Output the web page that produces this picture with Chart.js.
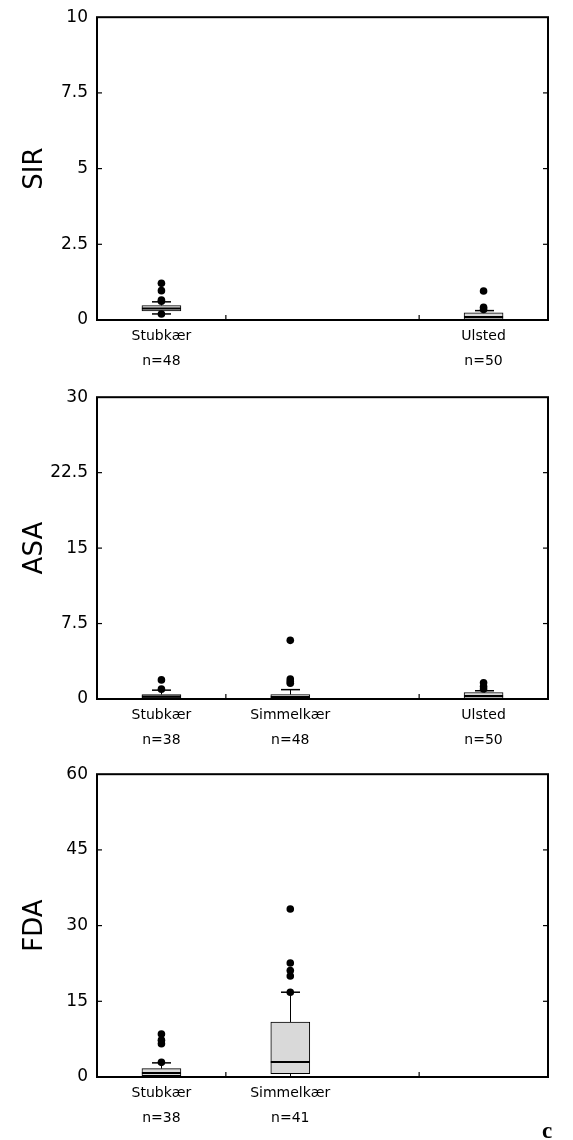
<!DOCTYPE html>
<html>
<head>
<meta charset="utf-8">
<script src="https://cdn.jsdelivr.net/npm/chart.js@4.4.0/dist/chart.umd.min.js"></script>
<style>
html,body{margin:0;padding:0;background:#fff;width:573px;height:1140px;overflow:hidden;position:relative}
canvas{position:absolute;left:0}
#lbl{position:absolute;left:542px;top:1118px;font:bold 23px 'Liberation Serif';color:#000}
</style>
</head>
<body>
<canvas id="p1" width="573" height="387" style="top:-2px"></canvas>
<canvas id="p2" width="573" height="386" style="top:378px"></canvas>
<canvas id="p3" width="573" height="387" style="top:755px"></canvas>
<div id="lbl">c</div>
<script>
// ---------- Data ----------
// Panel 1: SIR
const sirCategories = ['Stubkær', 'Ulsted'];
const sirCounts = ['n=48', 'n=50'];
const sirPositions = [1, 3.5];
const sirLowerWhisker = [0.2, 0];
const sirQ1 = [0.3, 0.02];
const sirMedian = [0.38, 0.1];
const sirQ3 = [0.48, 0.24];
const sirUpperWhisker = [0.6, 0.31];
const sirOutliers = [[1.21, 0.97, 0.66, 0.62, 0.2], [0.96, 0.42, 0.35]];
const sirTicks = [0, 2.5, 5, 7.5, 10];

// Panel 2: ASA
const asaCategories = ['Stubkær', 'Simmelkær', 'Ulsted'];
const asaCounts = ['n=38', 'n=48', 'n=50'];
const asaPositions = [1, 2, 3.5];
const asaLowerWhisker = [0, 0, 0];
const asaQ1 = [0.1, 0.05, 0.05];
const asaMedian = [0.25, 0.2, 0.3];
const asaQ3 = [0.45, 0.45, 0.65];
const asaUpperWhisker = [0.88, 0.93, 0.82];
const asaOutliers = [[1.9, 0.98], [5.83, 1.99, 1.75, 1.56], [1.62, 1.25, 1.0]];
const asaTicks = [0, 7.5, 15, 22.5, 30];

// Panel 3: FDA
const fdaCategories = ['Stubkær', 'Simmelkær'];
const fdaCounts = ['n=38', 'n=41'];
const fdaPositions = [1, 2];
const fdaLowerWhisker = [0, 0];
const fdaQ1 = [0.25, 0.66];
const fdaMedian = [0.8, 2.97];
const fdaQ3 = [1.66, 10.9];
const fdaUpperWhisker = [2.8, 16.8];
const fdaOutliers = [[8.5, 7.3, 6.6, 2.9], [33.3, 22.6, 21.1, 20.0, 16.8]];
const fdaTicks = [0, 15, 30, 45, 60];

// ---------- Rendering ----------
const FONT = 'DejaVu Sans';
const BOX_W = 39;
const CAP_W = 19;

const boxExtras = {
  id: 'boxExtras',
  beforeDatasetsDraw(chart, args, o) {
    const {ctx, scales: {x, y}} = chart;
    ctx.save();
    ctx.strokeStyle = '#000';
    ctx.lineWidth = 1;
    o.pos.forEach((p, i) => {
      const px = Math.round(x.getPixelForValue(p)) + 0.5;
      const seg = (x1, y1, x2, y2) => { ctx.beginPath(); ctx.moveTo(x1, y1); ctx.lineTo(x2, y2); ctx.stroke(); };
      const yl = y.getPixelForValue(o.low[i]), y1 = y.getPixelForValue(o.q1[i]);
      const y3 = y.getPixelForValue(o.q3[i]), yh = y.getPixelForValue(o.high[i]);
      seg(px, yl, px, y1);
      seg(px, y3, px, yh);
      ctx.lineWidth = 1.5;
      seg(px - CAP_W / 2, yh, px + CAP_W / 2, yh);
      seg(px - CAP_W / 2, yl, px + CAP_W / 2, yl);
      ctx.lineWidth = 1;
    });
    ctx.restore();
  },
  afterDatasetsDraw(chart, args, o) {
    const {ctx, scales: {x, y}} = chart;
    ctx.save();
    ctx.strokeStyle = '#000';
    ctx.lineWidth = 2;
    o.pos.forEach((p, i) => {
      const px = x.getPixelForValue(p);
      const ym = y.getPixelForValue(o.med[i]);
      ctx.beginPath(); ctx.moveTo(px - BOX_W / 2, ym); ctx.lineTo(px + BOX_W / 2, ym); ctx.stroke();
    });
    ctx.restore();
  },
  afterDraw(chart, args, o) {
    const {ctx, chartArea: a, scales: {x, y}} = chart;
    ctx.save();
    ctx.strokeStyle = '#000';
    ctx.lineWidth = 2;
    ctx.strokeRect(a.left, a.top, a.right - a.left, a.bottom - a.top);
    ctx.lineWidth = 1.2;
    o.yTicks.forEach(v => {
      if (v === o.yTicks[0] || v === o.yTicks[o.yTicks.length - 1]) return;
      const py = y.getPixelForValue(v);
      ctx.beginPath(); ctx.moveTo(a.left, py); ctx.lineTo(a.left + 5, py); ctx.stroke();
      ctx.beginPath(); ctx.moveTo(a.right, py); ctx.lineTo(a.right - 5, py); ctx.stroke();
    });
    o.xMinor.forEach(v => {
      const px = x.getPixelForValue(v);
      ctx.beginPath(); ctx.moveTo(px, a.bottom); ctx.lineTo(px, a.bottom - 5); ctx.stroke();
    });
    ctx.restore();
  }
};

function makeChart(id, title, cats, counts, pos, low, q1, med, q3, high, outl, yTicks) {
  const boxes = pos.map((p, i) => ({x: p, y: [q1[i], q3[i]]}));
  const pts = [];
  outl.forEach((arr, i) => arr.forEach(v => pts.push({x: pos[i], y: v})));
  return new Chart(document.getElementById(id), {
    type: 'bar',
    data: {
      datasets: [
        {type: 'bar', data: boxes, backgroundColor: '#d9d9d9', borderColor: '#000',
         borderWidth: 1, borderSkipped: false, barThickness: BOX_W, order: 2},
        {type: 'scatter', data: pts, pointRadius: 3.8, pointStyle: 'circle',
         backgroundColor: '#000', borderColor: '#000', borderWidth: 0, order: 1}
      ]
    },
    options: {
      responsive: false,
      animation: false,
      events: [],
      layout: {padding: {top: 12, right: 25, left: 0, bottom: 0}},
      plugins: {
        legend: {display: false},
        tooltip: {enabled: false},
        boxExtras: {pos, low, q1, med, q3, high, yTicks, xMinor: [1.5, 3]}
      },
      scales: {
        x: {
          type: 'linear', min: 0.5, max: 4, offset: false,
          afterBuildTicks: s => { s.ticks = pos.map(v => ({value: v})); },
          ticks: {
            callback: v => { const i = pos.indexOf(v); return i < 0 ? '' : [cats[i], counts[i]]; },
            font: {family: FONT, size: 14, lineHeight: 1.8}, color: '#000',
            padding: 4, maxRotation: 0, autoSkip: false
          },
          grid: {display: false, drawTicks: false},
          border: {display: false},
          afterFit: s => { s.height = 65; }
        },
        y: {
          min: yTicks[0], max: yTicks[yTicks.length - 1],
          afterBuildTicks: s => { s.ticks = yTicks.map(v => ({value: v})); },
          ticks: {callback: v => String(v), font: {family: FONT, size: 17}, color: '#000', padding: 9},
          title: {display: true, text: title, font: {family: FONT, size: 26}, color: '#000', padding: {top: 20, bottom: 0}},
          grid: {display: false, drawTicks: false},
          border: {display: false},
          afterFit: s => { s.width = 97; }
        }
      }
    },
    plugins: [boxExtras]
  });
}

makeChart('p1', 'SIR', sirCategories, sirCounts, sirPositions, sirLowerWhisker, sirQ1, sirMedian, sirQ3, sirUpperWhisker, sirOutliers, sirTicks);
makeChart('p2', 'ASA', asaCategories, asaCounts, asaPositions, asaLowerWhisker, asaQ1, asaMedian, asaQ3, asaUpperWhisker, asaOutliers, asaTicks);
makeChart('p3', 'FDA', fdaCategories, fdaCounts, fdaPositions, fdaLowerWhisker, fdaQ1, fdaMedian, fdaQ3, fdaUpperWhisker, fdaOutliers, fdaTicks);
</script>
</body>
</html>
